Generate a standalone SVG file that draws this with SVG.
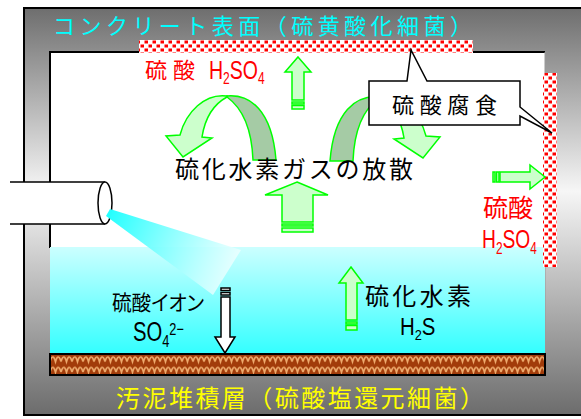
<svg xmlns="http://www.w3.org/2000/svg" width="581" height="419" viewBox="0 0 581 419">
  <style>
    .jp { font-family: "Noto Sans CJK JP", "Noto Sans", sans-serif; }
    .lat { font-family: "Liberation Sans", Arial, sans-serif; }
    .palt { font-feature-settings: "palt"; }
    .ga { fill: #ccffcc; stroke: #00ff00; stroke-width: 1.5; stroke-linejoin: miter; }
    .gd { fill: #a5cba5; stroke: #00ff00; stroke-width: 1.5; }
    .wa { fill: #ffffff; stroke: #000000; stroke-width: 1.5; }
  </style>
  <defs>
    <linearGradient id="frameGrad" gradientUnits="userSpaceOnUse" x1="0" y1="8" x2="0" y2="415">
      <stop offset="0" stop-color="#6e6e6e"/>
      <stop offset="0.45" stop-color="#f6f6f6"/>
      <stop offset="1" stop-color="#6c6c6c"/>
    </linearGradient>
    <linearGradient id="waterGrad" gradientUnits="userSpaceOnUse" x1="0" y1="247" x2="0" y2="354">
      <stop offset="0" stop-color="#ccffff"/>
      <stop offset="1" stop-color="#33ffff"/>
    </linearGradient>
    <linearGradient id="sprayGrad" gradientUnits="userSpaceOnUse" x1="108" y1="212" x2="232" y2="268">
      <stop offset="0" stop-color="#22ffff"/>
      <stop offset="1" stop-color="#ecffff" stop-opacity="0.85"/>
    </linearGradient>
    <pattern id="corrosion" patternUnits="userSpaceOnUse" width="8" height="8">
      <rect width="8" height="8" fill="#ffffff"/>
      <rect x="0.5" y="0.5" width="3.5" height="3" fill="#ff0000"/>
      <rect x="4.5" y="4.5" width="3.5" height="3" fill="#ff0000"/>
    </pattern>
    <pattern id="sludge" patternUnits="userSpaceOnUse" x="50" y="354" width="11" height="10.5">
      <rect width="11" height="10.5" fill="#a23c0a"/>
      <path d="M0,7.5 C1.8,1.5 3.7,1.5 5.5,7.5 C7.3,1.5 9.2,1.5 11,7.5" fill="none" stroke="#eeaa6c" stroke-width="1.8"/>
    </pattern>
    <filter id="soft" x="-5%" y="-5%" width="110%" height="110%">
      <feGaussianBlur stdDeviation="0.3"/>
    </filter>
  </defs>

  <!-- concrete shell -->
  <g id="shell">
    <rect x="24" y="8" width="600" height="407" fill="url(#frameGrad)" stroke="#000" stroke-width="2"/>
    <rect x="50" y="52" width="495" height="323" fill="#ffffff"/>
    <path d="M50,182 V52 H545" fill="none" stroke="#000" stroke-width="2"/>
    <path d="M50,224 V248" fill="none" stroke="#000" stroke-width="2"/>
    <path d="M545,52 V354" fill="none" stroke="#999" stroke-width="1"/>
  </g>

  <!-- sewage water -->
  <g id="water">
    <rect x="50" y="247" width="495" height="107" fill="url(#waterGrad)"/>
  </g>

  <!-- inflow pipe and spray -->
  <g id="pipe">
    <rect x="10" y="182" width="95" height="42" fill="#ffffff"/>
    <path d="M10,182 H105 M10,224 H105" stroke="#000" stroke-width="1.5"/>
    <ellipse cx="105" cy="203" rx="7" ry="21" fill="#ffffff" stroke="#000" stroke-width="1.5"/>
    <polygon points="110,209 241,250 213,295 106,216" fill="url(#sprayGrad)"/>
  </g>

  <!-- sludge layer -->
  <g id="sludge-layer">
    <rect x="50" y="354" width="495" height="21" fill="url(#sludge)" stroke="#000" stroke-width="2"/>
  </g>

  <!-- corroded concrete bands -->
  <g id="corrosion-top">
    <rect x="139" y="40" width="334" height="13" fill="url(#corrosion)" filter="url(#soft)"/>
  </g>
  <g id="corrosion-right">
    <rect x="543" y="73" width="14" height="194" fill="url(#corrosion)" filter="url(#soft)"/>
  </g>

  <!-- flow arrows -->
  <g id="connectors">
    <g id="arrow-up-top">
      <path class="ga" d="M298,57 L311,72 L304,72 L304,100 L292,100 L292,72 L285,72 Z"/>
      <rect class="ga" x="292" y="102" width="12" height="2"/>
      <rect class="ga" x="292" y="105.5" width="12" height="3.5"/>
    </g>
    <g id="arrow-up-gas">
      <path class="ga" d="M297,182 L328,195 L313,195 L313,222 L282,222 L282,195 L265,195 Z"/>
      <rect class="ga" x="282" y="224" width="31" height="2"/>
      <rect class="ga" x="282" y="228" width="31" height="4"/>
    </g>
    <g id="arrow-up-water">
      <path class="ga" d="M351,267 L363,283 L357,283 L357,320 L346,320 L346,283 L339,283 Z"/>
      <rect class="ga" x="346" y="322" width="11" height="2"/>
      <rect class="ga" x="346" y="325.5" width="11" height="4.5"/>
    </g>
    <g id="arrow-down-ion">
      <rect class="wa" x="221" y="288" width="9" height="2.5"/>
      <rect class="wa" x="221" y="292.5" width="9" height="2.5"/>
      <path class="wa" d="M221,297 L230,297 L230,337 L235,337 L225,353 L215,337 L221,337 Z"/>
    </g>
    <g id="arrow-right-wall">
      <rect class="ga" x="493" y="172" width="2" height="10"/>
      <rect class="ga" x="496.5" y="172" width="2.5" height="10"/>
      <path class="ga" d="M500,172 L530,172 L530,165 L545,177 L530,189 L530,182 L500,182 Z"/>
    </g>
    <g id="arrow-curve-left">
      <path class="gd" d="M227,96 C250,94 272,110 276,160 L253,160 C252,135 245,110 227,97 Z"/>
      <path class="ga" d="M227,96 C205,93 186,112 180,135 L166,136 L183,157 L212,138 L202,137 C205,118 214,104 227,97 Z"/>
    </g>
    <g id="arrow-curve-right" transform="translate(606,1) scale(-1,1)">
      <path class="gd" d="M227,96 C250,94 272,110 276,160 L253,160 C252,135 245,110 227,97 Z"/>
      <path class="ga" d="M227,96 C205,93 186,112 180,135 L166,136 L183,157 L212,138 L202,137 C205,118 214,104 227,97 Z"/>
    </g>
  </g>

  <!-- labels -->
  <g id="label-surface">
    <text class="jp" x="53" y="34" font-size="22" fill="#00ffff" textLength="419" lengthAdjust="spacing">コンクリート表面（硫黄酸化細菌）</text>
  </g>
  <g id="label-sludge">
    <text class="jp" x="116" y="407" font-size="24" fill="#ffff00" textLength="368" lengthAdjust="spacing">汚泥堆積層（硫酸塩還元細菌）</text>
  </g>
  <g id="label-acid-top" fill="#ff0000">
    <text class="jp" x="145" y="78" font-size="22" textLength="50" lengthAdjust="spacing">硫酸</text>
    <text class="lat" transform="translate(209,79) scale(0.75,1)" font-size="26">H<tspan font-size="16" dy="5">2</tspan><tspan dy="-5">SO</tspan><tspan font-size="16" dy="5">4</tspan></text>
  </g>
  <g id="label-acid-right" fill="#ff0000">
    <text class="jp" x="483" y="217" font-size="25">硫酸</text>
    <text class="lat" transform="translate(482,248) scale(0.74,1)" font-size="26">H<tspan font-size="16" dy="6">2</tspan><tspan dy="-6">SO</tspan><tspan font-size="16" dy="6">4</tspan></text>
  </g>
  <g id="label-gas">
    <text class="jp" x="175" y="178" font-size="24" textLength="238" lengthAdjust="spacing">硫化水素ガスの放散</text>
  </g>
  <g id="label-ion">
    <text class="jp palt" x="112" y="310" font-size="21" textLength="92" lengthAdjust="spacingAndGlyphs">硫酸イオン</text>
    <text class="lat" transform="translate(133,341) scale(0.75,1)" font-size="27">SO<tspan font-size="17" dy="6">4</tspan><tspan font-size="17" dy="-12">2−</tspan></text>
  </g>
  <g id="label-h2s">
    <text class="jp" x="365" y="305" font-size="24" textLength="106" lengthAdjust="spacing">硫化水素</text>
    <text class="lat" transform="translate(400,335) scale(0.85,1)" font-size="24">H<tspan font-size="15" dy="5">2</tspan><tspan dy="-5">S</tspan></text>
  </g>

  <!-- callout -->
  <g id="callout-corrosion">
    <path d="M369,81 L407,81 L411,50 L427,81 L520,81 L520,107 L552,133 L520,116 L520,125 L369,125 Z" fill="#ffffff" stroke="#000" stroke-width="1.5" stroke-linejoin="miter"/>
    <text class="jp" x="392" y="113" font-size="22" textLength="105" lengthAdjust="spacing">硫酸腐食</text>
  </g>
</svg>
